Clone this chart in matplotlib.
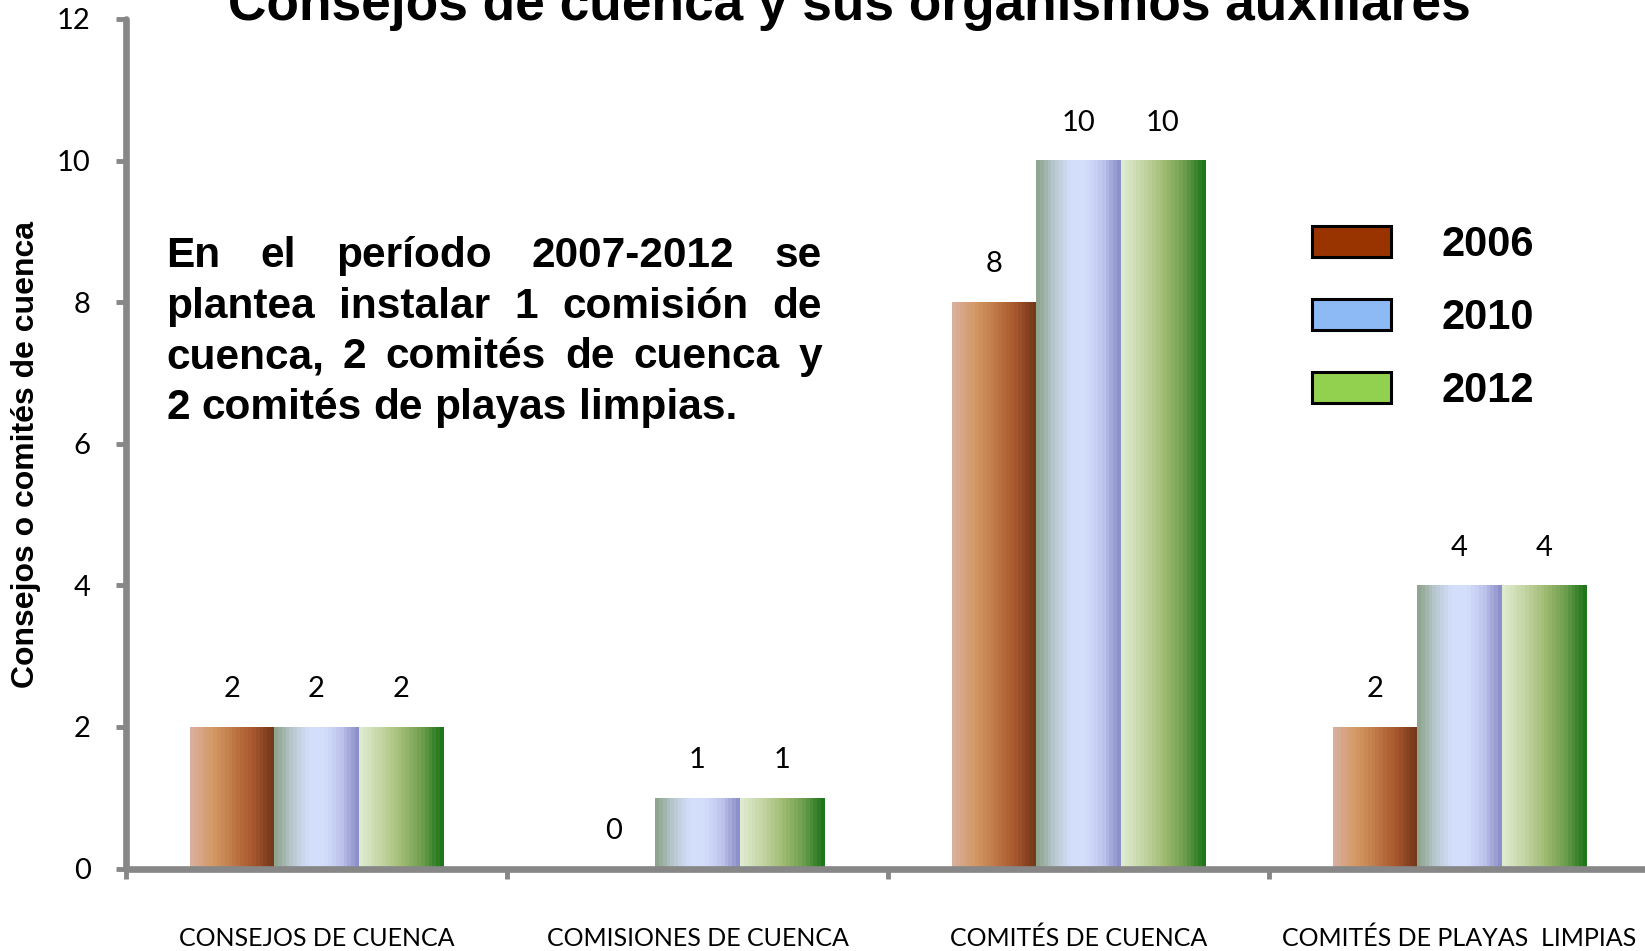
import numpy as np
import matplotlib
matplotlib.use("Agg")
import matplotlib.pyplot as plt
from matplotlib.colors import LinearSegmentedColormap
from matplotlib.patches import Patch

# ---- data ----
categories = ["CONSEJOS DE CUENCA", "COMISIONES DE CUENCA",
              "COMITÉS DE CUENCA", "COMITÉS DE PLAYAS  LIMPIAS"]
years = ["2006", "2010", "2012"]
values_2006 = [2, 0, 8, 2]
values_2010 = [2, 1, 10, 4]
values_2012 = [2, 1, 10, 4]
y_ticks = [0, 2, 4, 6, 8, 10, 12]

title = "Consejos de cuenca y sus organismos auxiliares"
y_title = "Consejos o comités de cuenca"
note_lines = ["En el período 2007-2012 se",
              "plantea instalar 1 comisión de",
              "cuenca, 2 comités de cuenca y",
              "2 comités de playas limpias."]

# ---- styling ----
legend_colors = ["#993300", "#8DB9F5", "#92D050"]
gradient_stops = [
    ["#D8AE9C", "#D49A66", "#C07A48", "#A8572E", "#74381A"],
    ["#8FA58F", "#B9C8D0", "#D3DEFB", "#D3DEFB", "#BEC4EC", "#8D91CB"],
    ["#DEEACE", "#C4D6A5", "#A2BC74", "#6E9F4E", "#1F761B"],
]
axis_gray = "#878787"
bold_font = ["Liberation Sans", "DejaVu Sans"]
num_font = ["Lato", "DejaVu Sans"]

W_PX, H_PX = 1645, 951
fig = plt.figure(figsize=(W_PX / 100, H_PX / 100), dpi=100)
fig.patch.set_facecolor("white")

ax_left, ax_right = 126, 1650
ax_top, ax_bottom = 18.9, 868.6
ax = fig.add_axes([ax_left / W_PX, 1 - ax_bottom / H_PX,
                   (ax_right - ax_left) / W_PX, (ax_bottom - ax_top) / H_PX])

x = np.arange(len(categories))
width = 0.221
series = [values_2006, values_2010, values_2012]
offsets = [-width, 0, width]

for vals, off, stops in zip(series, offsets, gradient_stops):
    bars = ax.bar(x + off, vals, width, facecolor="none", edgecolor="none", zorder=2)
    cmap = LinearSegmentedColormap.from_list("g", stops)
    n = 22
    img = cmap(np.linspace(0, 1, n))[None, :, :3]
    for b, v in zip(bars, vals):
        h = b.get_height()
        if h > 0:
            ax.imshow(img, extent=(b.get_x(), b.get_x() + b.get_width(), 0, h),
                      aspect="auto", interpolation="nearest", origin="lower", zorder=2)
        ax.annotate(f"{v}", (b.get_x() + b.get_width() / 2, h),
                    xytext=(0, 21.5), textcoords="offset points",
                    ha="center", va="baseline", fontsize=21,
                    family=num_font, color="black")

ax.set_xlim(-0.5, len(categories) - 0.5)
ax.set_ylim(0, 12)
ax.set_yticks(y_ticks)
ax.set_yticklabels([str(t) for t in y_ticks], family=num_font, fontsize=21)

ax.set_xticks(np.arange(len(categories) + 1) - 0.5)
ax.set_xticklabels([])
ax.set_xticks(x, minor=True)
ax.set_xticklabels(categories, minor=True, family=num_font, fontsize=18)

ax.tick_params(axis="y", direction="out", length=7.5, width=3.5, color=axis_gray, pad=18)
ax.tick_params(axis="x", which="major", direction="out", length=7.5, width=3.5, color=axis_gray)
ax.tick_params(axis="x", which="minor", length=0, pad=42)

for side in ("top", "right"):
    ax.spines[side].set_visible(False)
for side in ("left", "bottom"):
    ax.spines[side].set_color(axis_gray)
    ax.spines[side].set_linewidth(4.8)
    ax.spines[side].set_capstyle("round")

# title and y-axis caption
fig.text(849 / W_PX, 1 - 20 / H_PX, title, ha="center", va="baseline",
         fontsize=38.3, fontweight="bold", family=bold_font)
fig.text(26 / W_PX, 1 - 455 / H_PX, y_title, rotation=90, ha="center", va="center",
         fontsize=23, fontweight="bold", family=bold_font)

# legend
handles = [Patch(facecolor=c, edgecolor="black", linewidth=2.2) for c in legend_colors]
leg = ax.legend(handles, years, loc="upper left",
                bbox_to_anchor=(1312 / W_PX, 1 - 225 / H_PX), bbox_transform=fig.transFigure,
                frameon=False, borderpad=0, borderaxespad=0,
                handlelength=1.9, handleheight=0.78,
                handletextpad=1.2, labelspacing=0.79,
                prop={"family": bold_font, "weight": "bold", "size": 30})


# justified note block
def draw_justified(lines, left, right, first_baseline, step, **kw):
    renderer = fig.canvas.get_renderer()

    def wpx(s):
        t = fig.text(0, 0, s, **kw)
        w = t.get_window_extent(renderer).width
        t.remove()
        return w

    space = wpx("a a") - wpx("aa")
    for i, line in enumerate(lines):
        words = line.split()
        widths = [wpx(w) for w in words]
        if i < len(lines) - 1 and len(words) > 1:
            gap = (right - left - sum(widths)) / (len(words) - 1)
        else:
            gap = space
        xp = left
        yp = first_baseline + i * step
        for w, wd in zip(words, widths):
            fig.text(xp / W_PX, 1 - yp / H_PX, w, ha="left", va="baseline", **kw)
            xp += wd + gap


draw_justified(note_lines, 166, 822, 267, 50.7,
               fontsize=30.5, fontweight="bold", family=bold_font, color="black")

fig.savefig("out.png", dpi=100)
